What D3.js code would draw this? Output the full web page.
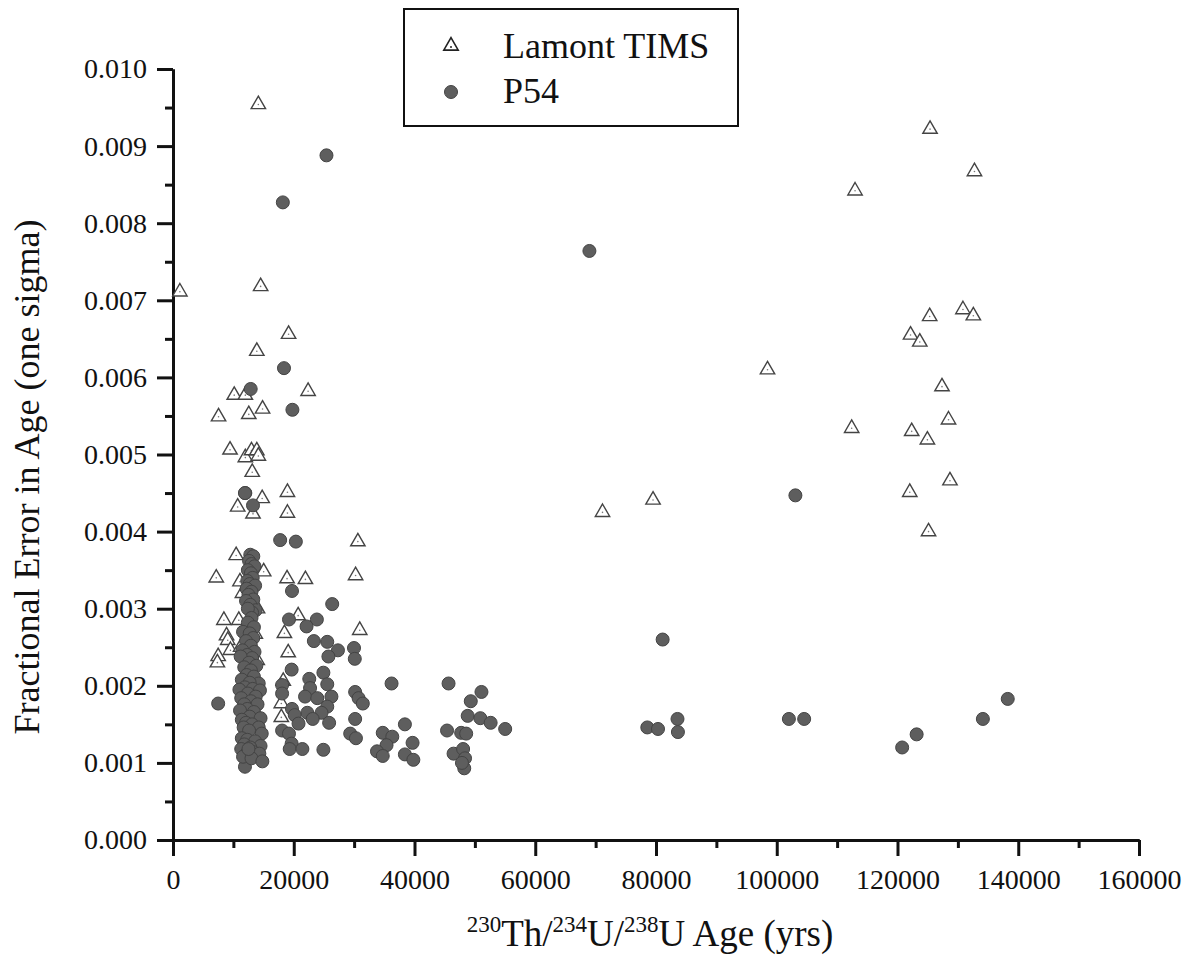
<!DOCTYPE html>
<html>
<head>
<meta charset="utf-8">
<script src="https://cdn.jsdelivr.net/npm/d3@7"></script>
<style>
  body { margin: 0; background: #fff; }
  svg text { font-family: "Liberation Serif", "Times New Roman", serif; fill: #111; }
</style>
</head>
<body>
<svg id="chart"></svg>
<script>
// Lamont TIMS (triangles): age in years, fractional error
var lamontAge = [14136, 1141, 14516, 19144, 13882, 22377, 10142, 11981, 7543, 12551,
  14833, 9445, 11981, 12995, 13882, 14136, 13122, 18954, 10713, 14770,
  13250, 18954, 30620, 10460, 7163, 18890, 21930, 30240, 15020, 11090,
  20730, 30930, 8430, 10900, 18450, 8870, 9065, 9510, 19080, 7480,
  7350, 18260, 17940, 17940, 13630, 13950, 11500, 11200, 14000,
  125390, 132745, 112970, 125330, 130840, 132560, 122160, 123690, 98470, 127370,
  128450, 112410, 122350, 124950, 128690, 122030, 71140, 79510, 125140];
var lamontErr = [0.00954, 0.00711, 0.00718, 0.00656, 0.00634, 0.00582, 0.00577, 0.00577, 0.00549, 0.00552,
  0.00559, 0.00506, 0.00496, 0.00505, 0.00505, 0.00498, 0.00477, 0.00451, 0.00432, 0.00443,
  0.00423, 0.00424, 0.00387, 0.00369, 0.00340, 0.00339, 0.00338, 0.00343, 0.00348, 0.00335,
  0.00291, 0.00272, 0.00285, 0.00285, 0.00268, 0.00265, 0.00259, 0.00246, 0.00243, 0.00238,
  0.00230, 0.00206, 0.00177, 0.00159, 0.00267, 0.00233, 0.00320, 0.00250, 0.00300,
  0.00922, 0.00867, 0.00842, 0.00679, 0.00688, 0.00680, 0.00655, 0.00646, 0.00610, 0.00588,
  0.00545, 0.00534, 0.00530, 0.00519, 0.00466, 0.00451, 0.00425, 0.00441, 0.00400];

// P54 (circles)
var p54Age = [25420, 18193, 68970, 18383, 12868, 19778, 11981, 11918, 13250, 17750,
  20350, 19710, 26370, 19210, 23830, 22120, 23330, 25550, 27320, 25740,
  29980, 30110, 19650, 24910, 22570, 36200, 45640, 18070, 25550, 22700,
  30170, 51090, 18070, 21870, 23900, 26240, 30740, 49320, 31440, 7480,
  19710, 25550, 22250, 20160, 24600, 48810, 50900, 23140, 30170, 52610,
  55020, 25860, 20790, 38410, 18070, 19210, 45390, 34740, 29350, 47730,
  36320, 30300, 48560, 39680, 35370, 19650, 19330, 21430, 24910, 33790,
  34740, 38410, 39810, 46470, 48050, 48370, 48240, 47860, 11920,
  103090, 81100, 138260, 134140, 102010, 104540, 83560, 83630, 78560, 80330, 123170, 120770,
  // dense column near 12-14 kyr
  12800, 13300, 12600, 13000, 13500, 12400, 12900, 13200, 12300, 12700,
  13600, 12200, 13000, 12500, 13300, 12100, 12800, 13700, 13100, 12400,
  13000, 12400, 13400, 11600, 12700, 13300, 12100, 12900, 11500, 13500,
  12300, 13100, 11200, 12600, 13800, 11800, 12900, 12200, 13400, 11400,
  14200, 12700, 11900, 13200, 11000, 14400, 12400, 13700, 11300, 12900,
  11800, 14000, 12300, 11100, 13400, 12700, 14500, 11400, 12100, 13100,
  11700, 14200, 12600, 14700, 11400, 12300, 13600, 11800, 14500, 12800,
  11300, 13300, 12200, 14300, 11600, 13000, 14800, 12500];
var p54Err = [0.00888, 0.00827, 0.00764, 0.00612, 0.00585, 0.00558, 0.00450, 0.00450, 0.00434, 0.00389,
  0.00387, 0.00323, 0.00306, 0.00286, 0.00286, 0.00277, 0.00258, 0.00257, 0.00246, 0.00238,
  0.00249, 0.00235, 0.00221, 0.00217, 0.00209, 0.00203, 0.00203, 0.00201, 0.00202, 0.00197,
  0.00192, 0.00192, 0.00190, 0.00186, 0.00184, 0.00186, 0.00184, 0.00180, 0.00177, 0.00177,
  0.00170, 0.00173, 0.00165, 0.00162, 0.00165, 0.00161, 0.00158, 0.00157, 0.00157, 0.00152,
  0.00144, 0.00152, 0.00151, 0.00150, 0.00142, 0.00138, 0.00142, 0.00139, 0.00138, 0.00139,
  0.00134, 0.00132, 0.00138, 0.00126, 0.00123, 0.00125, 0.00118, 0.00118, 0.00117, 0.00115,
  0.00109, 0.00111, 0.00104, 0.00112, 0.00118, 0.00106, 0.00093, 0.00100, 0.00095,
  0.00447, 0.00260, 0.00183, 0.00157, 0.00157, 0.00157, 0.00157, 0.00140, 0.00146, 0.00144, 0.00137, 0.00120,
  0.00370, 0.00368, 0.00362, 0.00358, 0.00355, 0.00350, 0.00346, 0.00340, 0.00336, 0.00332,
  0.00330, 0.00326, 0.00322, 0.00318, 0.00312, 0.00310, 0.00305, 0.00298, 0.00295, 0.00300,
  0.00288, 0.00282, 0.00276, 0.00270, 0.00268, 0.00262, 0.00258, 0.00252, 0.00246, 0.00244,
  0.00240, 0.00236, 0.00238, 0.00230, 0.00226, 0.00224, 0.00220, 0.00214, 0.00212, 0.00208,
  0.00203, 0.00204, 0.00198, 0.00196, 0.00195, 0.00194, 0.00190, 0.00186, 0.00184, 0.00180,
  0.00176, 0.00176, 0.00170, 0.00168, 0.00166, 0.00160, 0.00158, 0.00156, 0.00152, 0.00150,
  0.00146, 0.00146, 0.00142, 0.00138, 0.00132, 0.00130, 0.00128, 0.00124, 0.00122, 0.00120,
  0.00118, 0.00114, 0.00112, 0.00112, 0.00108, 0.00106, 0.00102, 0.00118];

var xTicks = [0, 20000, 40000, 60000, 80000, 100000, 120000, 140000, 160000];
var yTicks = [0, 0.001, 0.002, 0.003, 0.004, 0.005, 0.006, 0.007, 0.008, 0.009, 0.010];
var seriesNames = ["Lamont TIMS", "P54"];

var width = 1190, height = 964;
var margin = {top: 69, right: 51, bottom: 124, left: 173};
var w = width - margin.left - margin.right;   // 966
var h = height - margin.top - margin.bottom;  // 771

var svg = d3.select("#chart")
    .attr("width", width)
    .attr("height", height);

var g = svg.append("g")
    .attr("transform", "translate(" + margin.left + "," + margin.top + ")");

var x = d3.scaleLinear().domain([0, 160000]).range([0, w]);
var y = d3.scaleLinear().domain([0, 0.010]).range([h, 0]);

// minor ticks first (no labels)
g.append("g")
    .attr("class", "axis minor")
    .attr("transform", "translate(0," + h + ")")
    .call(d3.axisBottom(x).tickValues(d3.range(10000, 160000, 20000)).tickSize(8).tickFormat("").tickSizeOuter(0));
g.append("g")
    .attr("class", "axis minor")
    .call(d3.axisLeft(y).tickValues(d3.range(0.0005, 0.010, 0.001)).tickSize(8).tickFormat("").tickSizeOuter(0));

// major axes
g.append("g")
    .attr("class", "axis")
    .attr("transform", "translate(0," + h + ")")
    .call(d3.axisBottom(x).tickValues(xTicks).tickSize(16).tickPadding(13).tickSizeOuter(0).tickFormat(d3.format("d")));
g.append("g")
    .attr("class", "axis")
    .call(d3.axisLeft(y).tickValues(yTicks).tickSize(16).tickPadding(10).tickSizeOuter(0).tickFormat(d3.format(".3f")));

g.selectAll(".axis path.domain").attr("stroke", "#111").attr("stroke-width", 3);
g.selectAll(".axis .tick line").attr("stroke", "#111").attr("stroke-width", 3);
g.selectAll(".axis text").attr("font-size", 28).attr("font-family", "Liberation Serif").attr("fill", "#111");

// triangles
var tri = d3.symbol().type(d3.symbolTriangle).size(90);
var lamont = lamontAge.map(function (d, i) { return [d, lamontErr[i]]; });
var p54 = p54Age.map(function (d, i) { return [d, p54Err[i]]; });

var tg = g.append("g").selectAll("g").data(lamont).enter().append("g")
    .attr("transform", function (d) { return "translate(" + x(d[0]) + "," + y(d[1]) + ")"; });
tg.append("path").attr("d", tri)
    .attr("fill", "#fff").attr("stroke", "#444").attr("stroke-width", 1.4);
tg.append("circle").attr("r", 0.8).attr("fill", "#777");

// circles
g.append("g").selectAll("circle").data(p54).enter().append("circle")
    .attr("cx", function (d) { return x(d[0]); })
    .attr("cy", function (d) { return y(d[1]); })
    .attr("r", 6.5)
    .attr("fill", "#5e5e5e")
    .attr("stroke", "#444")
    .attr("stroke-width", 1);

// legend
var legend = svg.append("g").attr("transform", "translate(404,9)");
legend.append("rect").attr("width", 334).attr("height", 117)
    .attr("fill", "#fff").attr("stroke", "#111").attr("stroke-width", 2);
legend.append("path").attr("d", tri).attr("transform", "translate(47,37)")
    .attr("fill", "#fff").attr("stroke", "#222").attr("stroke-width", 1.6);
legend.append("circle").attr("cx", 47).attr("cy", 38).attr("r", 1).attr("fill", "#222");
legend.append("circle").attr("cx", 47).attr("cy", 83).attr("r", 6.5)
    .attr("fill", "#5e5e5e").attr("stroke", "#444");
legend.selectAll("text.lab").data(seriesNames).enter().append("text")
    .attr("class", "lab")
    .attr("x", 99)
    .attr("y", function (d, i) { return 49 + i * 45; })
    .attr("font-size", 36)
    .text(function (d) { return d; });

// axis titles
svg.append("text")
    .attr("transform", "translate(39,477) rotate(-90)")
    .attr("text-anchor", "middle")
    .attr("font-size", 36)
    .text("Fractional Error in Age (one sigma)");

var xt = svg.append("text")
    .attr("x", margin.left + w / 2 - 6)
    .attr("y", 946)
    .attr("text-anchor", "middle")
    .attr("font-size", 37);
xt.append("tspan").attr("font-size", 23).attr("dy", -14).text("230");
xt.append("tspan").attr("dy", 14).text("Th/");
xt.append("tspan").attr("font-size", 23).attr("dy", -14).text("234");
xt.append("tspan").attr("dy", 14).text("U/");
xt.append("tspan").attr("font-size", 23).attr("dy", -14).text("238");
xt.append("tspan").attr("dy", 14).text("U Age (yrs)");
</script>
</body>
</html>
